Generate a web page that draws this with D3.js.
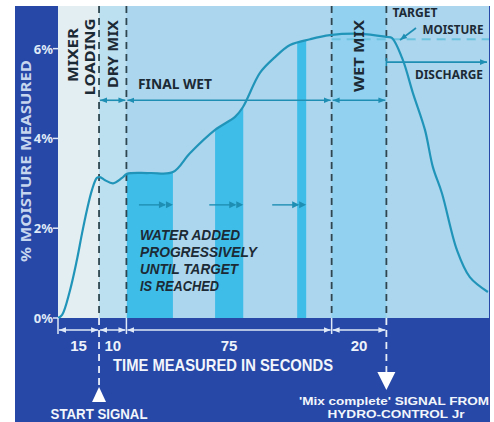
<!DOCTYPE html>
<html>
<head>
<meta charset="utf-8">
<script src="https://cdn.jsdelivr.net/npm/d3@7"></script>
<style>
  body { margin: 0; background: #fff; }
  svg { display: block; }
  text { font-family: "Noto Sans", "Open Sans", sans-serif; font-weight: bold; }
  text.lib { font-family: "Liberation Sans", sans-serif; }
</style>
</head>
<body>
<svg id="chart" width="494" height="422"></svg>
<script>
// phases of the mix cycle (seconds)
var phaseNames = ["MIXER LOADING", "DRY MIX", "FINAL WET", "WET MIX"];
var phaseSeconds = [15, 10, 75, 20];

// moisture curve
var curveTime = [0, 1.5, 4.4, 6.9, 8.8, 10.6, 12.4, 14.2, 15.3, 17.2, 20.1, 23.4, 25.2, 33.6, 42, 48.2, 57.4, 64.7, 67.6, 73.8, 79.3, 84.8, 92.1, 99.4, 110.3, 120.2, 122, 126, 129.7, 134.1, 137, 140.3, 145.8, 150.5, 157.1];
var curveMoisture = [0, 0.07, 0.62, 1.29, 1.89, 2.41, 2.85, 3.12, 3.14, 3.07, 3.0, 3.12, 3.21, 3.23, 3.25, 3.67, 4.19, 4.48, 4.7, 5.46, 5.81, 6.08, 6.21, 6.3, 6.33, 6.26, 6.24, 5.75, 5.01, 4.19, 3.36, 2.78, 1.51, 0.91, 0.58];

// water additions (start / end seconds)
var waterStart = [25.2, 57.4, 87.4];
var waterEnd = [42, 67.7, 90.7];

var yTicks = [0, 2, 4, 6];
var targetMoisture = 6.21;

var svg = d3.select("#chart");
var pLeft = 58, pRight = 489, pTop = 6, pBottom = 318;

var x = d3.scaleLinear().domain([0, 157.5]).range([pLeft, pRight]);
var y = d3.scaleLinear().domain([0, 6.95]).range([pBottom, pTop]);

var bounds = [0];
phaseSeconds.forEach(function(s, i) { bounds.push(bounds[i] + s); });

// frame
svg.append("rect").attr("x", 15).attr("y", pTop).attr("width", 475).attr("height", 422 - pTop).attr("fill", "#2748a6");
svg.append("rect").attr("x", pLeft).attr("y", pTop).attr("width", pRight - pLeft).attr("height", pBottom - pTop).attr("fill", "#acd6ee");

var phaseFill = ["#e3eef2", "#bde0f0", "#acd6ee", "#92d2f0"];
phaseSeconds.forEach(function(s, i) {
    svg.append("rect")
        .attr("x", x(bounds[i])).attr("y", pTop)
        .attr("width", x(bounds[i + 1]) - x(bounds[i]))
        .attr("height", pBottom - pTop)
        .attr("fill", phaseFill[i]);
});

var pts = curveTime.map(function(t, i) { return [t, curveMoisture[i]]; });

// water bars: area under curve clipped to the bar spans
var defs = svg.append("defs");
var clip = defs.append("clipPath").attr("id", "waterclip");
waterStart.forEach(function(s, i) {
    clip.append("rect").attr("x", x(s)).attr("y", pTop)
        .attr("width", x(waterEnd[i]) - x(s)).attr("height", pBottom - pTop);
});
svg.append("path")
    .datum(pts)
    .attr("clip-path", "url(#waterclip)")
    .attr("fill", "#3fbde9")
    .attr("d", d3.area().x(function(d) { return x(d[0]); }).y0(pBottom).y1(function(d) { return y(d[1]); }).curve(d3.curveCatmullRom));

// markers
function marker(id, color, dir) {
    defs.append("marker").attr("id", id).attr("viewBox", "0 0 10 10")
        .attr("refX", dir > 0 ? 10 : 0).attr("refY", 5)
        .attr("markerWidth", 7).attr("markerHeight", 7).attr("markerUnits", "userSpaceOnUse")
        .attr("orient", "auto")
        .append("path").attr("d", dir > 0 ? "M0,1L10,5L0,9Z" : "M10,1L0,5L10,9Z").attr("fill", color);
}
marker("tEnd", "#1e8fb3", 1); marker("tStart", "#1e8fb3", -1);
marker("wEnd", "#dfe9f7", 1); marker("wStart", "#dfe9f7", -1);

// target moisture dashed line
svg.append("line")
    .attr("x1", x(100)).attr("x2", pRight).attr("y1", y(targetMoisture)).attr("y2", y(targetMoisture))
    .attr("stroke", "#6cc3e0").attr("stroke-width", 2).attr("stroke-dasharray", "9,6");

// vertical phase boundaries
[1, 2, 3, 4].forEach(function(i) {
    svg.append("line")
        .attr("x1", x(bounds[i])).attr("x2", x(bounds[i])).attr("y1", pTop).attr("y2", pBottom)
        .attr("stroke", "#2f4650").attr("stroke-width", 1.8).attr("stroke-dasharray", "7,5");
});

// phase span arrows at final-wet level
for (var i = 1; i < 4; i++) {
    svg.append("line")
        .attr("x1", x(bounds[i]) + 1).attr("x2", x(bounds[i + 1]) - 1)
        .attr("y1", y(4.85)).attr("y2", y(4.85))
        .attr("stroke", "#1e8fb3").attr("stroke-width", 1.6)
        .attr("marker-start", "url(#tStart)").attr("marker-end", "url(#tEnd)");
}

// discharge arrow
svg.append("line").attr("x1", x(120)).attr("x2", x(120)).attr("y1", y(5.7) - 4).attr("y2", y(5.7) + 4)
    .attr("stroke", "#1e8fb3").attr("stroke-width", 1.6);
svg.append("line")
    .attr("x1", x(120)).attr("x2", pRight - 2).attr("y1", y(5.7)).attr("y2", y(5.7))
    .attr("stroke", "#1e8fb3").attr("stroke-width", 1.6).attr("marker-end", "url(#tEnd)");

// target arrow
svg.append("line").attr("x1", 416).attr("y1", 28).attr("x2", 400).attr("y2", 40)
    .attr("stroke", "#1e8fb3").attr("stroke-width", 1.6).attr("marker-end", "url(#tEnd)");

// water progress arrows
waterEnd.forEach(function(e, i) {
    var ay = y(2.52), xe = x(e);
    svg.append("line").attr("x1", xe - 34).attr("x2", xe - 8).attr("y1", ay).attr("y2", ay)
        .attr("stroke", "#1e8fb3").attr("stroke-width", 1.4);
    [xe - 7, xe].forEach(function(tx) {
        svg.append("path").attr("d", "M" + (tx - 7) + "," + (ay - 3.5) + "L" + tx + "," + ay + "L" + (tx - 7) + "," + (ay + 3.5) + "Z")
            .attr("fill", "#1e8fb3");
    });
});

// moisture curve
svg.append("path")
    .datum(pts)
    .attr("fill", "none").attr("stroke", "#2195b9").attr("stroke-width", 2.2)
    .attr("d", d3.line().x(function(d) { return x(d[0]); }).y(function(d) { return y(d[1]); }).curve(d3.curveCatmullRom));

// y axis ticks and labels
yTicks.forEach(function(v) {
    svg.append("line").attr("x1", pLeft - 5).attr("x2", pLeft).attr("y1", y(v)).attr("y2", y(v))
        .attr("stroke", "#dfe9f7").attr("stroke-width", 1.5);
    svg.append("text").attr("x", pLeft - 5).attr("y", y(v) + 5).attr("text-anchor", "end")
        .attr("fill", "#dfe9f7").style("font-size", "13px").text(v + "%");
});

function label(txt, cx, cy, len, size, color, rot) {
    return svg.append("text")
        .attr("transform", "translate(" + cx + "," + cy + ")" + (rot ? " rotate(-90)" : ""))
        .attr("text-anchor", "middle").attr("dy", "0.36em")
        .attr("fill", color).style("font-size", size + "px")
        .attr("textLength", len).attr("lengthAdjust", "spacingAndGlyphs")
        .text(txt);
}

var dark = "#1c2a35";
label("% MOISTURE MEASURED", 26, 161, 202, 15, "#c7d6ef", true);
label("MIXER", 73, 55, 54, 15, dark, true);
label("LOADING", 90, 57, 77, 15, dark, true);
label("DRY MIX", (x(15) + x(25)) / 2, 54, 68, 15, dark, true);
label("WET MIX", (x(100) + x(120)) / 2, 56, 72, 15, dark, true);
label("FINAL WET", 175, 84, 74, 14, dark);
label("TARGET", 415, 13, 45, 12, dark);
label("MOISTURE", 453, 29, 61, 13, dark);
label("DISCHARGE", 449, 74, 68, 13, dark);

var waterLines = ["WATER ADDED", "PROGRESSIVELY", "UNTIL TARGET", "IS REACHED"];
var waterLens = [100, 117, 98, 79];
waterLines.forEach(function(l, i) {
    svg.append("text").attr("class", "lib").attr("x", 140).attr("y", 240 + i * 17)
        .attr("fill", dark).style("font-size", "15px").style("font-style", "italic")
        .attr("textLength", waterLens[i]).attr("lengthAdjust", "spacingAndGlyphs")
        .text(l);
});

// bottom time axis
svg.append("line").attr("x1", pLeft).attr("x2", pLeft).attr("y1", pBottom).attr("y2", pBottom + 16)
    .attr("stroke", "#dfe9f7").attr("stroke-width", 1.5);
phaseSeconds.forEach(function(s, i) {
    svg.append("line")
        .attr("x1", x(bounds[i]) + 1).attr("x2", x(bounds[i + 1]) - 1)
        .attr("y1", 330).attr("y2", 330)
        .attr("stroke", "#dfe9f7").attr("stroke-width", 1.5)
        .attr("marker-start", "url(#wStart)").attr("marker-end", "url(#wEnd)");
    svg.append("text").attr("class", "lib").attr("x", x(bounds[i] + s / 2)).attr("y", 351).attr("text-anchor", "middle")
        .attr("fill", "#eef3fb").style("font-size", "15px").text(s);
});
[2, 3].forEach(function(i) {
    svg.append("line").attr("x1", x(bounds[i])).attr("x2", x(bounds[i])).attr("y1", pBottom).attr("y2", pBottom + 16)
        .attr("stroke", "#dfe9f7").attr("stroke-width", 1.5);
});
svg.append("line").attr("x1", x(15)).attr("x2", x(15)).attr("y1", pBottom).attr("y2", 388)
    .attr("stroke", "#e8eef8").attr("stroke-width", 1.8).attr("stroke-dasharray", "7,5");
svg.append("line").attr("x1", x(120)).attr("x2", x(120)).attr("y1", pBottom).attr("y2", 372)
    .attr("stroke", "#e8eef8").attr("stroke-width", 1.8).attr("stroke-dasharray", "7,5");
svg.append("path").attr("d", "M" + (x(15) - 7) + ",402L" + x(15) + ",387L" + (x(15) + 7) + ",402Z").attr("fill", "#fff");
svg.append("path").attr("d", "M" + (x(120) - 9) + ",372L" + x(120) + ",390L" + (x(120) + 9) + ",372Z").attr("fill", "#fff");

label("TIME MEASURED IN SECONDS", 223, 365, 220, 17, "#f2f6fc").attr("class", "lib");
label("START SIGNAL", x(15), 414, 97, 14, "#f2f6fc").attr("class", "lib");
label("'Mix complete' SIGNAL FROM", 394, 401, 190, 11, "#f2f6fc").attr("class", "lib");
label("HYDRO-CONTROL Jr", 396, 414, 137, 11, "#f2f6fc").attr("class", "lib");
</script>
</body>
</html>
